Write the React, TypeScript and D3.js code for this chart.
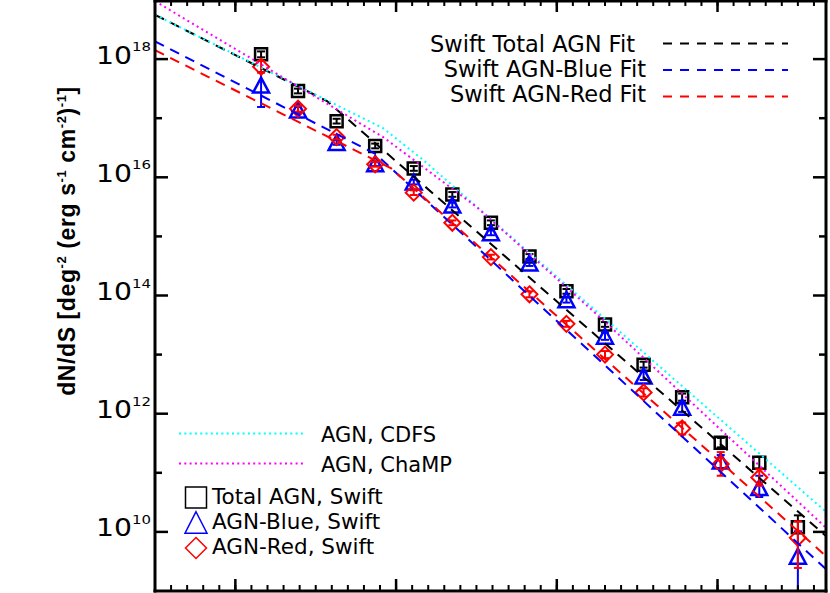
import * as d3 from 'd3'

// log10 flux bin centres (x axis is linear in log S)
const logS = [-13.84, -13.61, -13.37, -13.13, -12.89, -12.65, -12.41, -12.17, -11.94, -11.7, -11.46, -11.22, -10.98, -10.74, -10.5]

// log10 dN/dS for each sample
const totalLog = [18.08, 17.46, 16.95, 16.53, 16.15, 15.71, 15.23, 14.66, 14.07, 13.51, 12.83, 12.28, 11.51, 11.17, 10.08]
const blueLog = [17.56, 17.14, 16.59, 16.23, 15.92, 15.53, 15.06, 14.55, 13.93, 13.31, 12.64, 12.11, 11.2, 10.75, 9.59]
const redLog = [17.87, 17.16, 16.68, 16.22, 15.74, 15.23, 14.65, 14.02, 13.52, 13.0, 12.36, 11.75, 11.15, 10.92, 9.9]

// errors in dex (upper / lower)
const totalErrUp = [0.05, 0.04, 0.04, 0.04, 0.04, 0.04, 0.04, 0.04, 0.04, 0.04, 0.05, 0.06, 0.08, 0.1, 0.2]
const totalErrDn = [0.05, 0.04, 0.04, 0.04, 0.04, 0.04, 0.04, 0.04, 0.04, 0.04, 0.05, 0.06, 0.08, 0.1, 0.1]
const blueErrUp = [0.22, 0.05, 0.04, 0.04, 0.04, 0.04, 0.04, 0.05, 0.05, 0.06, 0.07, 0.08, 0.1, 0.2, 0.42]
const blueErrDn = [0.37, 0.05, 0.04, 0.04, 0.04, 0.04, 0.04, 0.05, 0.05, 0.06, 0.07, 0.08, 0.12, 0.16, 1.2]
const redErrUp = [0.1, 0.05, 0.04, 0.04, 0.04, 0.04, 0.04, 0.05, 0.05, 0.06, 0.07, 0.1, 0.2, 0.14, 0.28]
const redErrDn = [0.1, 0.05, 0.04, 0.04, 0.04, 0.04, 0.04, 0.05, 0.05, 0.06, 0.07, 0.1, 0.2, 0.14, 0.51]

// broken power-law fits, vertices as [log S, log dN/dS]
const totalFit = [[-14.5, 18.75], [-13.43, 17.29], [-10.325, 9.93]]
const blueFit = [[-14.5, 18.3], [-13.125, 16.39], [-10.325, 9.37]]
const redFit = [[-14.5, 18.15], [-13.03, 16.15], [-10.325, 9.59]]
const cdfsCurve = [[-14.5, 18.75], [-13.08, 16.83], [-12.83, 16.29], [-10.325, 10.34]]
const champCurve = [[-14.5, 18.98], [-13.08, 16.68], [-12.5, 15.5], [-11.71, 13.58], [-10.325, 10.07]]

const yLabelExps = [10, 12, 14, 16, 18]
const yMinorExps = [11, 13, 15, 17]

const W = 830
const H = 593
const L = 155
const R = 826
const T = 0
const B = 591

const sans = 'DejaVu Sans, sans-serif'

export default function App() {
  const x = d3.scaleLinear().domain([-14.5, -10.325]).range([L, R])
  const y = d3.scaleLog().domain([1e9, 1e19]).range([B, T])
  const yl = (v: number) => y(Math.pow(10, v))

  const line = d3
    .line<number[]>()
    .x(d => x(d[0]))
    .y(d => yl(d[1]))

  const xMajor = [-14, -13, -12, -11]
  const xMinor = d3.range(0, 42).map(i => -14.5 + i * 0.1)

  const errBar = (cx: number, v: number, up: number, dn: number, color: string, key: string) => {
    const y1 = yl(v + up)
    const y2 = yl(v - dn)
    return (
      <g key={key} stroke={color} strokeWidth={2}>
        <line x1={cx} x2={cx} y1={y1} y2={y2} />
        <line x1={cx - 4} x2={cx + 4} y1={y1} y2={y1} />
        <line x1={cx - 4} x2={cx + 4} y1={y2} y2={y2} />
      </g>
    )
  }

  const square = (cx: number, cy: number, s: number) =>
    `M${cx - s},${cy - s}H${cx + s}V${cy + s}H${cx - s}Z`
  const triangle = (cx: number, cy: number, w: number, h: number) =>
    `M${cx},${cy - h / 2}L${cx + w / 2},${cy + h / 2}L${cx - w / 2},${cy + h / 2}Z`
  const diamond = (cx: number, cy: number, s: number) =>
    `M${cx},${cy - s}L${cx + s},${cy}L${cx},${cy + s}L${cx - s},${cy}Z`

  return (
    <svg
      width={W}
      height={H}
      style={{ position: 'absolute', left: 0, top: 0, background: '#fff' }}
    >
      <defs>
        <clipPath id="plot-clip">
          <rect x={L} y={T} width={R - L} height={B - T} />
        </clipPath>
      </defs>

      <g clipPath="url(#plot-clip)">
        {/* data points */}
        {logS.map((s, i) => (
          <g key={'t' + i}>
            {errBar(x(s), totalLog[i], totalErrUp[i], totalErrDn[i], '#000', 'te' + i)}
            <path d={square(x(s), yl(totalLog[i]), 6)} fill="none" stroke="#000" strokeWidth={2.5} />
          </g>
        ))}
        {logS.map((s, i) => (
          <g key={'b' + i}>
            {errBar(x(s), blueLog[i], blueErrUp[i], blueErrDn[i], '#0000ff', 'be' + i)}
            <path d={triangle(x(s), yl(blueLog[i]), 16, 15)} fill="none" stroke="#0000ff" strokeWidth={2.5} />
          </g>
        ))}
        {logS.map((s, i) => (
          <g key={'r' + i}>
            {errBar(x(s), redLog[i], redErrUp[i], redErrDn[i], '#ff0000', 're' + i)}
            <path d={diamond(x(s), yl(redLog[i]), 8)} fill="none" stroke="#ff0000" strokeWidth={2} />
          </g>
        ))}

        {/* fits */}
        <path d={line(totalFit) || ''} fill="none" stroke="#000" strokeWidth={2} strokeDasharray="10,7" />
        <path d={line(blueFit) || ''} fill="none" stroke="#0000ff" strokeWidth={2} strokeDasharray="10,7" />
        <path d={line(redFit) || ''} fill="none" stroke="#ff0000" strokeWidth={2} strokeDasharray="10,7" />
        <path d={line(cdfsCurve) || ''} fill="none" stroke="#00ffff" strokeWidth={2} strokeDasharray="2,3.4" />
        <path d={line(champCurve) || ''} fill="none" stroke="#ff00ff" strokeWidth={2} strokeDasharray="2,3.4" />
      </g>

      {/* frame */}
      <g stroke="#000" fill="none">
        <line x1={L} x2={L} y1={T} y2={B + 1.5} strokeWidth={3} />
        <line x1={R} x2={R} y1={T} y2={B + 1.5} strokeWidth={3} />
        <line x1={L - 1.5} x2={R + 1.5} y1={T + 1} y2={T + 1} strokeWidth={3} />
        <line x1={L - 1.5} x2={R + 1.5} y1={B} y2={B} strokeWidth={3} />
        {xMajor.map(v => (
          <g key={'xM' + v} strokeWidth={2.5}>
            <line x1={x(v)} x2={x(v)} y1={B} y2={B - 12} />
            <line x1={x(v)} x2={x(v)} y1={T} y2={T + 12} />
          </g>
        ))}
        {xMinor.map((v, i) => (
          <g key={'xm' + i} strokeWidth={2}>
            <line x1={x(v)} x2={x(v)} y1={B} y2={B - 6} />
            <line x1={x(v)} x2={x(v)} y1={T} y2={T + 6} />
          </g>
        ))}
        {yLabelExps.map(e => (
          <g key={'yM' + e} strokeWidth={2.5}>
            <line x1={L} x2={L + 13} y1={y(Math.pow(10, e))} y2={y(Math.pow(10, e))} />
            <line x1={R} x2={R - 13} y1={y(Math.pow(10, e))} y2={y(Math.pow(10, e))} />
          </g>
        ))}
        {yMinorExps.map(e => (
          <g key={'ym' + e} strokeWidth={2.5}>
            <line x1={L} x2={L + 7} y1={y(Math.pow(10, e))} y2={y(Math.pow(10, e))} />
            <line x1={R} x2={R - 7} y1={y(Math.pow(10, e))} y2={y(Math.pow(10, e))} />
          </g>
        ))}
      </g>

      {/* y tick labels */}
      {yLabelExps.map(e => {
        const ty = y(Math.pow(10, e))
        return (
          <g key={'yl' + e} fontFamily={sans} fill="#000">
            <text x={96} y={ty + 4.5} fontSize={24} textLength={36} lengthAdjust="spacingAndGlyphs">10</text>
            <text x={132} y={ty - 8} fontSize={13} textLength={19} lengthAdjust="spacingAndGlyphs">{e}</text>
          </g>
        )
      })}

      {/* y axis title */}
      <text
        transform={`translate(75,${241}) rotate(-90)`}
        textAnchor="middle"
        fontFamily="Liberation Sans, Arial, sans-serif"
        fontWeight="bold"
        fontSize={23}
        letterSpacing={0.6}
        fill="#000"
      >
        dN/dS [deg<tspan dy={-9} fontSize={13}>-2</tspan>
        <tspan dy={9}> (erg s</tspan>
        <tspan dy={-9} fontSize={13}>-1</tspan>
        <tspan dy={9}> cm</tspan>
        <tspan dy={-9} fontSize={13}>-2</tspan>
        <tspan dy={9}>)</tspan>
        <tspan dy={-9} fontSize={13}>-1</tspan>
        <tspan dy={9}>]</tspan>
      </text>

      {/* fit legend, top right */}
      <g fontFamily={sans} fontSize={22.5} fill="#000" textAnchor="end">
        <text x={635} y={52}>Swift Total AGN Fit</text>
        <text x={646} y={77}>Swift AGN-Blue Fit</text>
        <text x={646} y={102}>Swift AGN-Red Fit</text>
      </g>
      <g fill="none" strokeWidth={2} strokeDasharray="9,8">
        <line x1={663} x2={788} y1={43.5} y2={43.5} stroke="#000" />
        <line x1={663} x2={788} y1={70} y2={70} stroke="#0000ff" />
        <line x1={663} x2={788} y1={96.5} y2={96.5} stroke="#ff0000" />
      </g>

      {/* literature curves legend */}
      <g fill="none" strokeWidth={2} strokeDasharray="2,3.3">
        <line x1={179} x2={306} y1={433.5} y2={433.5} stroke="#00ffff" />
        <line x1={179} x2={306} y1={463.5} y2={463.5} stroke="#ff00ff" />
      </g>
      <g fontFamily={sans} fontSize={21} fill="#000">
        <text x={321} y={442}>AGN, CDFS</text>
        <text x={321} y={472}>AGN, ChaMP</text>
      </g>

      {/* symbol legend */}
      <g fill="none" strokeWidth={1.5}>
        <path d={square(196, 497.5, 10.5)} stroke="#000" />
        <path d={triangle(196, 522.5, 22, 21.5)} stroke="#0000ff" />
        <path d={diamond(196, 548, 10.5)} stroke="#ff0000" />
      </g>
      <g fontFamily={sans} fontSize={21.5} fill="#000">
        <text x={212} y={503.5}>Total AGN, Swift</text>
        <text x={212} y={528.5}>AGN-Blue, Swift</text>
        <text x={212} y={553.5}>AGN-Red, Swift</text>
      </g>
    </svg>
  )
}
